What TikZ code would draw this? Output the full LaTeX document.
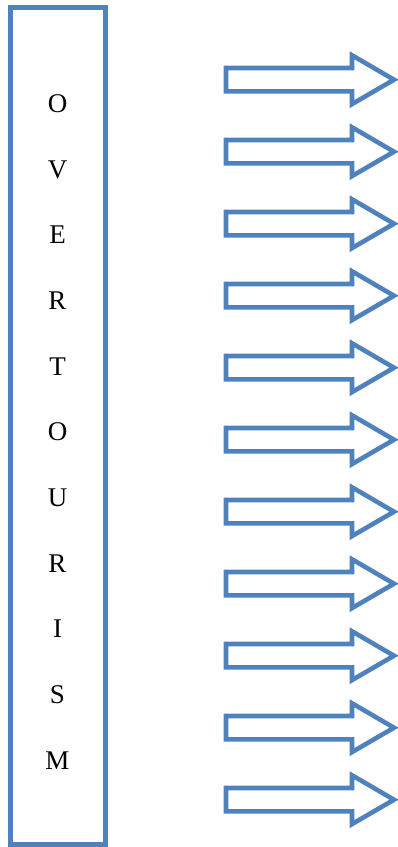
\documentclass[tikz,border=0pt]{standalone}
\usepackage{fontspec}
\setmainfont{Liberation Serif}
\definecolor{officeblue}{HTML}{4F81BD}
\tikzset{
  outline/.style={draw=officeblue, line width=4.6pt, line join=miter, miter limit=10},
  letter/.style={anchor=base, inner sep=0pt, font=\fontsize{27}{30}\selectfont}
}
\begin{document}
\begin{tikzpicture}[x=1pt, y=-1pt]
  \useasboundingbox (0,0) rectangle (398,847);
  % vertical bar holding the word
  \draw[outline] (10.5,7.7) rectangle (105.5,844.5);
  \foreach \ch [count=\i from 0] in {O,V,E,R,T,O,U,R,I,S,M} {
    \node[letter] (l\i) at (57.5, {112.3 + 65.7*\i}) {\ch};
  }
  % block arrows
  \foreach \i in {0,...,10} {
    \pgfmathsetmacro{\c}{79.7 + 72*\i}
    \draw[outline] (226, \c-11.7) -- (352, \c-11.7) -- (352, \c-24.4)
      -- (394, \c) -- (352, \c+24.4) -- (352, \c+11.7) -- (226, \c+11.7) -- cycle;
  }
\end{tikzpicture}
\end{document}
